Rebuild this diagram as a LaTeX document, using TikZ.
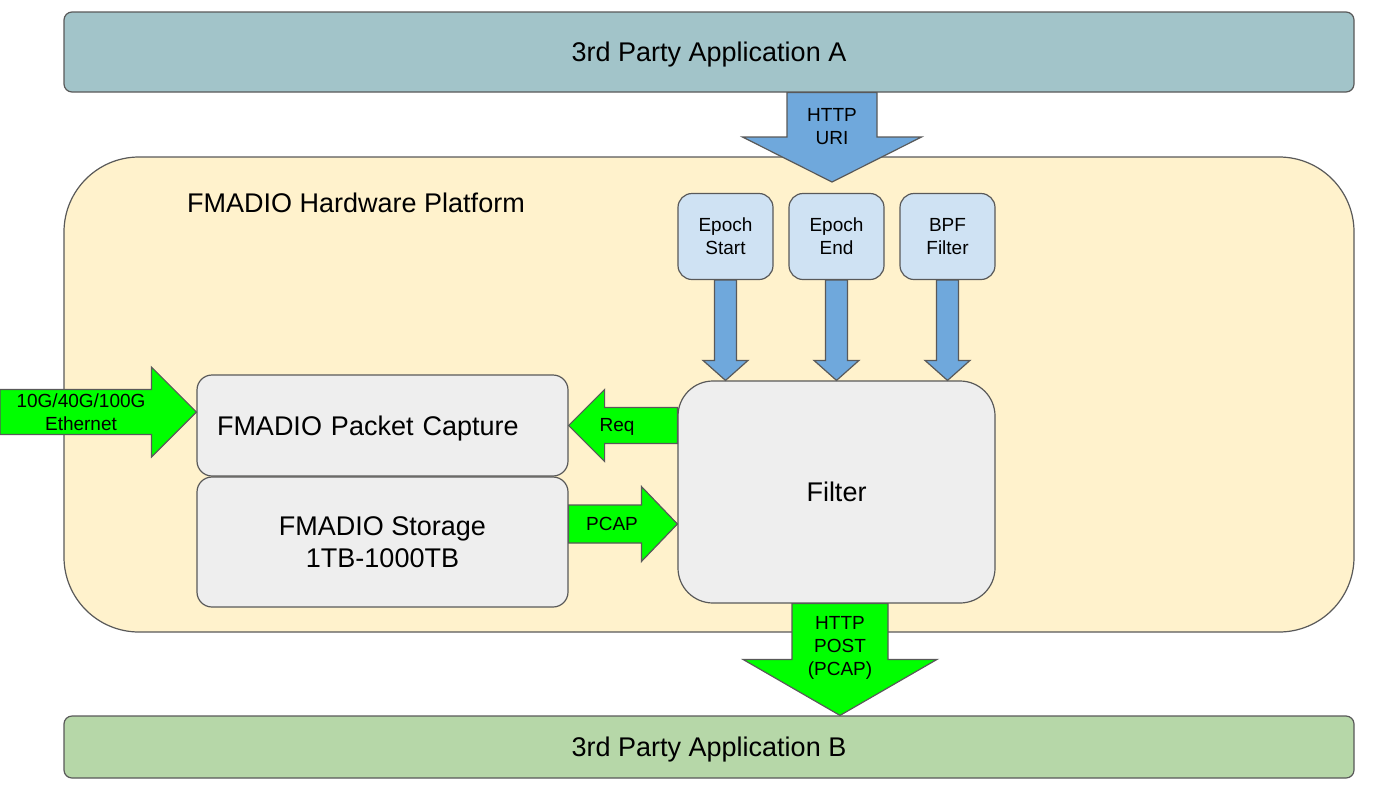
\documentclass[tikz,border=0pt]{standalone}
\usepackage{fontspec}
\setmainfont{Liberation Sans}
\usetikzlibrary{calc}
\definecolor{appAcol}{HTML}{A2C4C9}
\definecolor{appBcol}{HTML}{B6D7A8}
\definecolor{hwcol}{HTML}{FFF2CC}
\definecolor{paramcol}{HTML}{CFE2F3}
\definecolor{unitcol}{HTML}{EEEEEE}
\definecolor{flowcol}{HTML}{6FA8DC}
\definecolor{pktcol}{HTML}{00FF00}
\definecolor{edgecol}{HTML}{595959}
\newcommand\bigtxt{\fontsize{27}{32}\selectfont}
\newcommand\smalltxt{\fontsize{19}{23}\selectfont}
\newcommand\barrow[6]{%
  \draw[fatarrow, fill=#6] let \p1=(#1), \p2=(#2), \n1={atan2(\y2-\y1,\x2-\x1)}, \n2={veclen(\x2-\x1,\y2-\y1)} in
    {[shift={(\p1)}, rotate=\n1] (0,#3) -- (\n2-#5,#3) -- (\n2-#5,#4) -- (\n2,0) -- (\n2-#5,-#4) -- (\n2-#5,-#3) -- (0,-#3) -- cycle};}
\begin{document}
\begin{tikzpicture}[x=1pt, y=-1pt, line join=round,
    app/.style={draw=edgecol, line width=1.2pt, rounded corners=8pt, minimum width=1290pt, inner sep=0pt, text depth=0pt, font=\bigtxt},
    param/.style={draw=edgecol, line width=1.2pt, fill=paramcol, rounded corners=14pt, minimum width=95pt, minimum height=86pt, inner sep=0pt, align=center, font=\smalltxt},
    unit/.style={draw=edgecol, line width=1.2pt, fill=unitcol, inner sep=0pt, text depth=0pt, font=\bigtxt},
    fatarrow/.style={draw=edgecol, line width=1.2pt, line join=miter},
    note/.style={inner sep=0pt, align=center, text depth=0pt, font=\smalltxt}]
      \useasboundingbox (0,0) rectangle (1396,785);

      \node[draw=edgecol, line width=1.2pt, fill=hwcol, rounded corners=75pt, minimum width=1290pt, minimum height=475pt] (hw) at (709,394.5) {};
      \node[font=\bigtxt, text depth=0pt] (hwlbl) at (356,203) {FMADIO Hardware Platform};
      \node[app, fill=appAcol, minimum height=80pt] (appA) at (709,52) {3rd Party Application A};
      \node[app, fill=appBcol, minimum height=62pt] (appB) at (709,747) {3rd Party Application B};

      \foreach \name/\x/\txt in {estart/725.5/Epoch\\Start, eend/836.5/Epoch\\End, bpf/947.5/BPF\\Filter}
        \node[param] (\name) at (\x,236.5) {\txt};

      \node[unit, rounded corners=35pt, minimum width=317pt, minimum height=222pt] (filter) at (836.5,492) {Filter};
      \node[unit, rounded corners=15pt, text width=331pt, inner xsep=20pt, align=left, minimum height=101pt] (capture) at (382.5,425.5) {FMADIO Packet Capture};
      \node[unit, rounded corners=15pt, minimum width=371pt, minimum height=130pt, align=center] (storage) at (382.5,542) {FMADIO Storage\\1TB-1000TB};

      \coordinate (uriS) at ($(appA.south)+(123,0)$);
      \coordinate (uriT) at (832,182);
      \coordinate (ethS) at (0,412);
      \coordinate (pcapS) at ($(storage.east)+(0,-18)$);
      \coordinate (postS) at ($(filter.south)+(3.5,0)$);

      \barrow{uriS}{uriT}{45}{89.5}{45}{flowcol}
      \foreach \name in {estart,eend,bpf}
        {\barrow{\name.south}{\name.south |- filter.north}{11}{22.5}{20}{flowcol}}
      \barrow{ethS}{capture.west |- ethS}{22.5}{45}{45}{pktcol}
      \barrow{filter.west |- capture.east}{capture.east}{18}{36}{36}{pktcol}
      \barrow{pcapS}{filter.west |- pcapS}{19}{37.5}{36}{pktcol}
      \barrow{postS}{postS |- appB.north}{48}{97}{56}{pktcol}

      \node[note] (urilbl) at (832,126) {HTTP\\URI};
      \node[note] (ethlbl) at (81,412) {10G/40G/100G\\Ethernet};
      \node[note] (reqlbl) at (617,425) {Req};
      \node[note] (pcaplbl) at (612,524) {PCAP};
      \node[note] (postlbl) at (840,646) {HTTP\\POST\\(PCAP)};
    \end{tikzpicture}
\end{document}
